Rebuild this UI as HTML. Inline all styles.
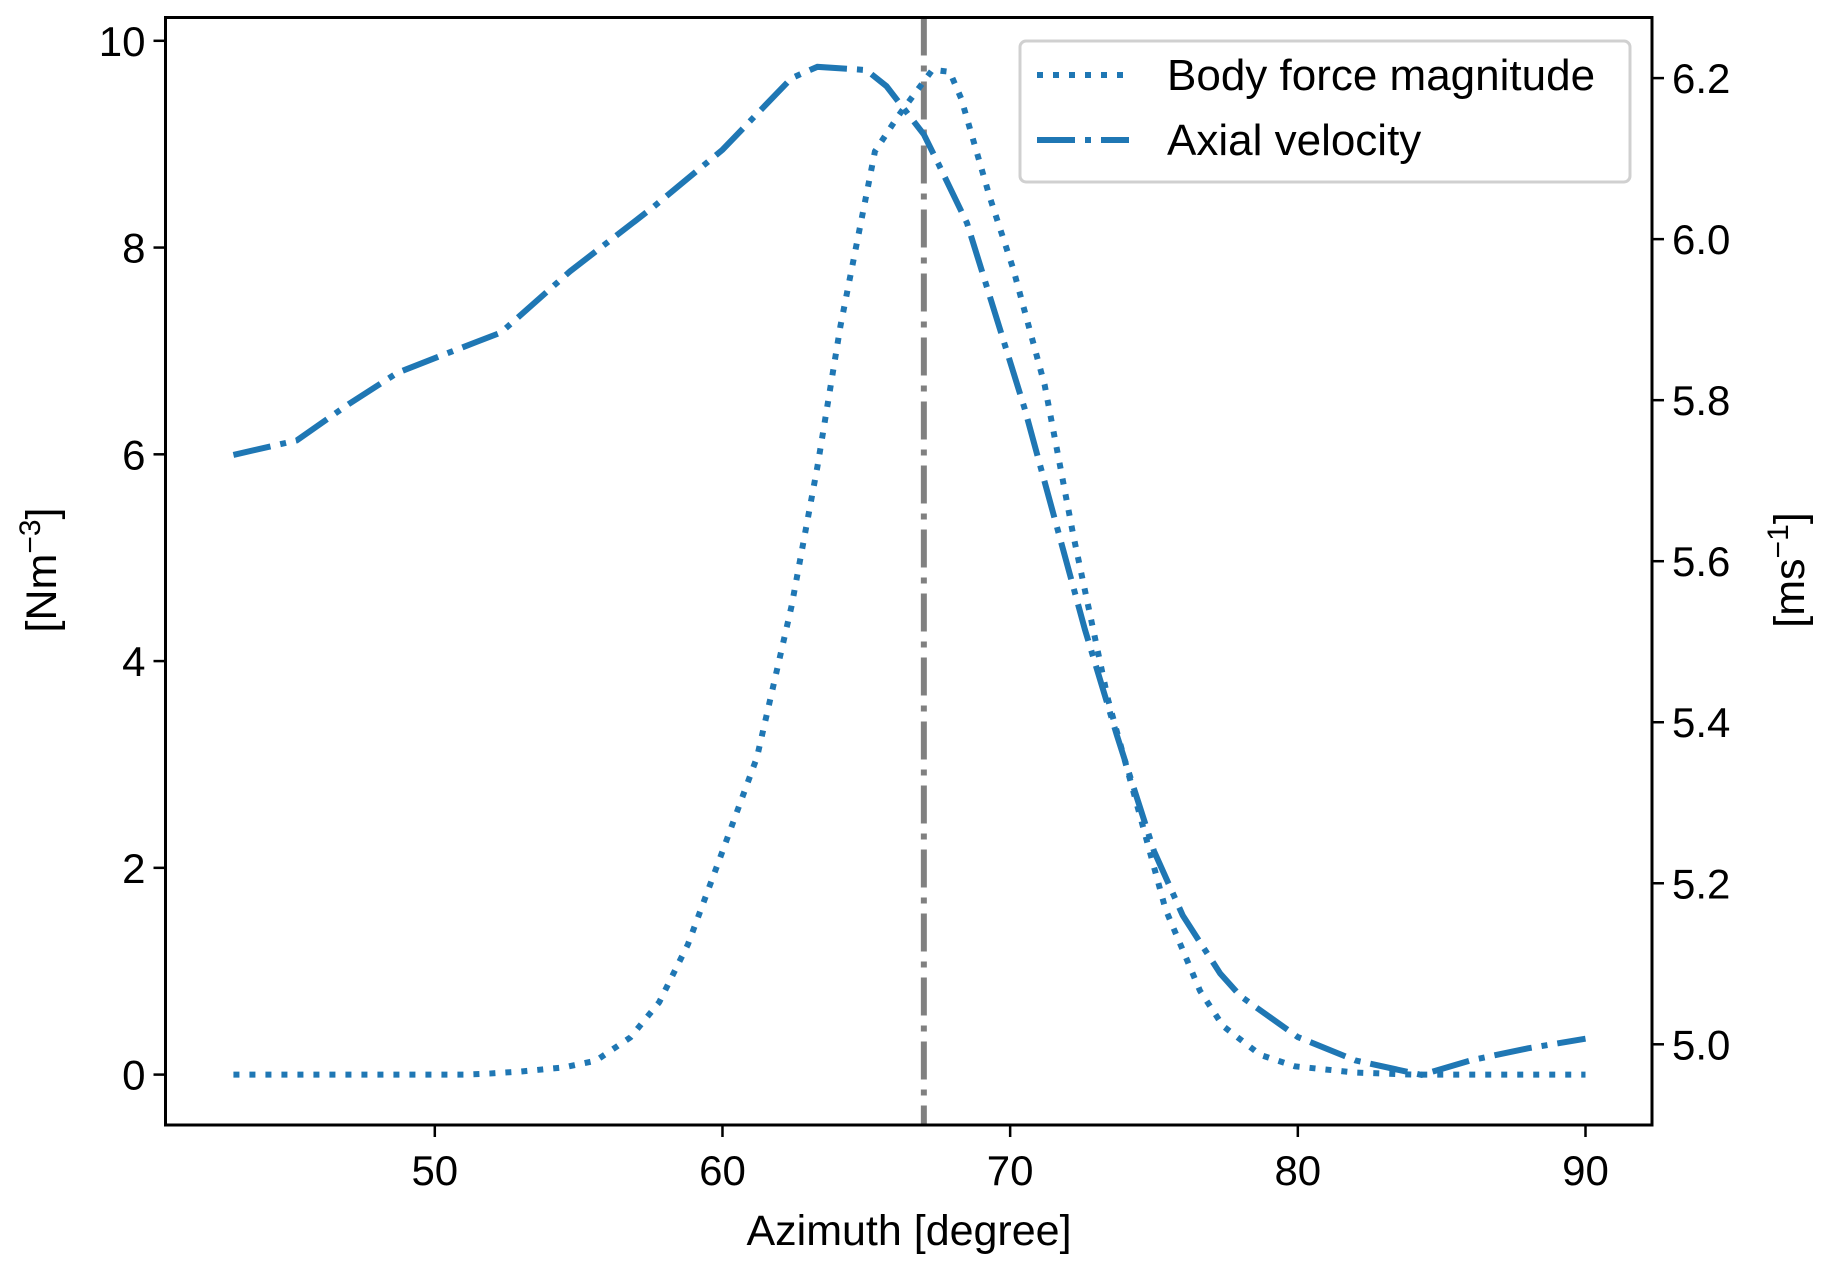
<!DOCTYPE html>
<html><head><meta charset="utf-8"><style>
body{margin:0;background:#fff}
svg{display:block;font-family:"Liberation Sans",Arial,sans-serif}
</style></head><body>
<svg id="chart" width="1828" height="1270" viewBox="0 0 1828 1270" xmlns="http://www.w3.org/2000/svg">
<rect width="1828" height="1270" fill="#fff"/>
<g id="plot"></g>
</svg>
<script>
const xTicks=[50,60,70,80,90];
const yLeftTicks=[0,2,4,6,8,10];
const yRightTicks=[5.0,5.2,5.4,5.6,5.8,6.0,6.2];
const forceX=[43,45,47,49,51,51.9,53,54.5,55.6,56.8,57.8,58.8,60,61.2,62.4,63.3,64.1,65.3,66.1,67.3,67.9,68.3,69.3,70.1,71.2,72.2,73.4,74.4,75.4,76.6,77.4,78.7,79.9,82,84,86,88,90];
const forceY=[0,0,0,0,0,0.01,0.03,0.07,0.135,0.36,0.7,1.26,2.16,3.07,4.53,5.88,7.24,8.93,9.27,9.72,9.7,9.44,8.48,7.8,6.67,5.21,3.63,2.62,1.6,0.81,0.47,0.19,0.08,0.02,0,0,0,0];
const velX=[43,45.2,47,48.7,50.2,51.5,52.3,54.7,57.6,60,62.4,63.3,65,65.7,67,67.5,68.5,70.5,72.6,73.7,75,76,77.3,78,80,82,84.3,86,88,90];
const velY=[5.732,5.75,5.795,5.834,5.855,5.873,5.884,5.96,6.04,6.111,6.2,6.214,6.21,6.19,6.13,6.094,6.02,5.79,5.515,5.385,5.24,5.16,5.088,5.06,5.009,4.98,4.962,4.98,4.995,5.007];
const marker=67;

const L=165.5,R=1652,T=17.5,B=1125;
const sx=v=>434.8+(v-50)*(1585.5-434.8)/40;
const syL=v=>1074.6-v*(1074.6-40.8)/10;
const syR=v=>1044.3-(v-5)*(1044.3-78.1)/1.2;
const NS='http://www.w3.org/2000/svg';
const g=document.getElementById('plot');
function mk(t,a,p){const e=document.createElementNS(NS,t);for(const k in a)e.setAttribute(k,a[k]);(p||g).appendChild(e);return e;}

const vl=mk('line',{x1:sx(marker),x2:sx(marker),y1:T,y2:B,stroke:'#808080','stroke-width':6,'stroke-dasharray':'38,10,6,10'});



const fp=mk('polyline',{points:forceX.map((x,i)=>sx(x)+','+syL(forceY[i])).join(' '),fill:'none',stroke:'#1f77b4','stroke-width':6,'stroke-dasharray':'6,10'});


const vp=mk('polyline',{points:velX.map((x,i)=>sx(x)+','+syR(velY[i])).join(' '),fill:'none',stroke:'#1f77b4','stroke-width':6,'stroke-dasharray':'38,10,6,10'});



const fr=mk('rect',{x:L,y:T,width:R-L,height:B-T,fill:'none',stroke:'#000','stroke-width':3});



xTicks.forEach(v=>{const x=sx(v);
 mk('line',{x1:x,x2:x,y1:B,y2:B+12,stroke:'#000','stroke-width':2.5});
 const t=mk('text',{x:x,y:B+60,'text-anchor':'middle','font-size':42});t.textContent=v;
 
 });
yLeftTicks.forEach(v=>{const y=syL(v);
 mk('line',{x1:L,x2:L-12,y1:y,y2:y,stroke:'#000','stroke-width':2.5});
 const t=mk('text',{x:L-20,y:y+15,'text-anchor':'end','font-size':42});t.textContent=v;
 
 });
yRightTicks.forEach(v=>{const y=syR(v);
 mk('line',{x1:R,x2:R+12,y1:y,y2:y,stroke:'#000','stroke-width':2.5});
 const t=mk('text',{x:R+20,y:y+15,'text-anchor':'start','font-size':42});t.textContent=v.toFixed(1);
 
 });
</script>
<svg style="position:absolute;left:0;top:0" width="1828" height="1270">
<text x="909" y="1245" text-anchor="middle" font-size="43" font-family="Liberation Sans, sans-serif">Azimuth [degree]</text>
<text transform="translate(56,570) rotate(-90)" text-anchor="middle" font-size="43" font-family="Liberation Sans, sans-serif">[Nm<tspan dy="-16" font-size="30">−3</tspan><tspan dy="16">]</tspan></text>
<text transform="translate(1804,570) rotate(-90)" text-anchor="middle" font-size="43" font-family="Liberation Sans, sans-serif">[ms<tspan dy="-16" font-size="30">−1</tspan><tspan dy="16">]</tspan></text>
<g>
<rect x="1020" y="41" width="610" height="141" rx="6" fill="#fff" fill-opacity="0.8" stroke="#d0d0d0" stroke-width="3"/>
<line x1="1037" x2="1129" y1="75" y2="75" stroke="#1f77b4" stroke-width="6" stroke-dasharray="6,10"/>
<text x="1167" y="90" font-size="44" font-family="Liberation Sans, sans-serif">Body force magnitude</text>
<line x1="1037" x2="1129" y1="140" y2="140" stroke="#1f77b4" stroke-width="6" stroke-dasharray="38,10,6,10"/>
<text x="1167" y="155" font-size="44" font-family="Liberation Sans, sans-serif">Axial velocity</text>
</g>
</svg>
</body></html>
